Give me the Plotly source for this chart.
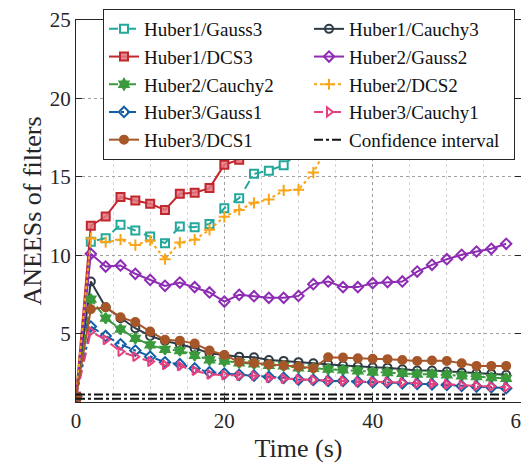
import plotly.graph_objects as go

time_s = [0, 2, 4, 6, 8, 10, 12, 14, 16, 18, 20, 22, 24, 26, 28, 30,
          32, 34, 36, 38, 40, 42, 44, 46, 48, 50, 52, 54, 56, 58]

huber1_gauss3 = [1.0, 10.87, 11.1, 11.95, 11.59, 11.2, 10.78, 11.85, 11.8, 12.0, 13.0, 13.65, 15.2, 15.4, 15.75, 16.57,
                 17.6, 18.3, 18.9, 19.4, 19.9, 20.3, 20.8, 21.2, 21.6, 22.0, 22.4, 22.8, 23.1, 23.5]
huber1_cauchy3 = [1.0, 8.34, 6.7, 6.0, 5.36, 4.87, 4.55, 4.34, 4.09, 3.77, 3.64, 3.55, 3.51, 3.34, 3.28, 3.2,
                  3.13, 3.07, 2.98, 2.94, 2.87, 2.85, 2.75, 2.66, 2.66, 2.6, 2.53, 2.49, 2.45, 2.39]
huber1_dcs3 = [1.0, 11.89, 12.48, 13.72, 13.5, 13.29, 12.9, 13.93, 14.0, 14.29, 15.78, 16.1, 16.5, 17.18, 17.9, 18.5,
               19.1, 19.6, 20.1, 20.6, 21.0, 21.5, 21.9, 22.3, 22.7, 23.1, 23.4, 23.8, 24.1, 24.5]
huber2_gauss2 = [1.0, 10.1, 9.29, 9.36, 8.83, 8.44, 8.06, 8.27, 7.98, 7.64, 7.06, 7.49, 7.4, 7.3, 7.3, 7.42,
                 8.17, 8.34, 7.98, 7.98, 8.23, 8.3, 8.34, 8.97, 9.4, 9.76, 10.04, 10.25, 10.42, 10.74]
huber2_cauchy2 = [1.0, 7.21, 6.0, 5.3, 4.72, 4.3, 4.02, 3.94, 3.63, 3.34, 3.26, 3.16, 3.09, 3.0, 2.97, 2.83,
                  2.81, 2.75, 2.7, 2.65, 2.56, 2.53, 2.49, 2.43, 2.43, 2.39, 2.32, 2.28, 2.22, 2.17]
huber2_dcs2 = [1.0, 11.1, 10.85, 11.0, 10.66, 10.95, 9.76, 10.82, 11.0, 11.63, 12.46, 12.9, 13.35, 13.57, 14.14, 14.19,
               15.28, 17.0, 18.6, 20.0, 21.3, 22.5, 23.6, 24.6, 25.5, 26.4, 27.2, 28.0, 28.7, 29.4]
huber3_gauss1 = [1.0, 5.47, 4.87, 4.34, 3.94, 3.55, 3.19, 3.07, 2.8, 2.56, 2.47, 2.39, 2.34, 2.26, 2.2, 2.09,
                 2.07, 2.0, 2.0, 1.95, 1.92, 1.9, 1.85, 1.81, 1.79, 1.75, 1.68, 1.64, 1.6, 1.54]
huber3_cauchy1 = [1.0, 5.15, 4.62, 3.87, 3.55, 3.24, 3.02, 2.96, 2.66, 2.42, 2.37, 2.34, 2.34, 2.2, 2.15, 2.1,
                  2.07, 2.02, 2.0, 1.95, 1.96, 1.94, 1.9, 1.85, 1.83, 1.79, 1.73, 1.7, 1.66, 1.6]
huber3_dcs1 = [1.0, 6.57, 6.7, 6.06, 5.75, 5.15, 4.62, 4.57, 4.38, 3.94, 3.66, 3.21, 3.15, 3.05, 2.98, 2.92,
               2.81, 3.51, 3.49, 3.44, 3.41, 3.39, 3.34, 3.28, 3.3, 3.28, 3.13, 2.96, 2.96, 2.96]
ci_lower = 0.87
ci_upper = 1.13

FONT = "Liberation Serif"

series = [
    ("Huber1/Gauss3", huber1_gauss3, "#23a89c", "dash", "square-open", None),
    ("Huber1/Cauchy3", huber1_cauchy3, "#2e3b45", "solid", "circle-open", None),
    ("Huber1/DCS3", huber1_dcs3, "#c1272d", "solid", "square", "rgba(225,120,130,0.85)"),
    ("Huber2/Gauss2", huber2_gauss2, "#8e2cb4", "solid", "diamond-open", None),
    ("Huber2/Cauchy2", huber2_cauchy2, "#3a9a3c", "dashdot", "hexagram", "#3a9a3c"),
    ("Huber2/DCS2", huber2_dcs2, "#f9a51a", "dot", "cross-thin", None),
    ("Huber3/Gauss1", huber3_gauss1, "#115fa6", "dashdot", "diamond-open", None),
    ("Huber3/Cauchy1", huber3_cauchy1, "#e6407f", "dash", "triangle-right-open", None),
    ("Huber3/DCS1", huber3_dcs1, "#a65628", "solid", "circle", "#a65628"),
]

fig = go.Figure()
for name, vals, color, dash, sym, fill in series:
    fig.add_trace(go.Scatter(
        x=time_s, y=vals, name=name, mode="lines+markers",
        line=dict(color=color, width=2, dash=dash),
        marker=dict(symbol=sym, size=8, color=fill if fill else color,
                    line=dict(color=color, width=2)),
    ))

ci_x = time_s + [None] + time_s
ci_y = [ci_lower] * len(time_s) + [None] + [ci_upper] * len(time_s)
fig.add_trace(go.Scatter(
    x=ci_x, y=ci_y, name="Confidence interval", mode="lines",
    line=dict(color="#111111", width=2, dash="dashdot"),
))

axis_common = dict(
    showline=True, linecolor="#262626", linewidth=1, mirror="allticks",
    ticks="inside", ticklen=6, tickcolor="#262626",
    tickfont=dict(family=FONT, size=21, color="#262626"),
    zeroline=False,
    gridcolor="#a0a0a0", griddash="dot", gridwidth=1,
)

fig.update_xaxes(
    range=[0, 60], tickvals=[0, 20, 40, 60], ticktext=["0", "20", "40", "60"],
    title=dict(text="Time (s)", font=dict(family=FONT, size=26, color="#262626"), standoff=6),
    minor=dict(dtick=5, tick0=0, showgrid=True, gridcolor="#d6d6d6", griddash="dot", gridwidth=1,
               ticks=""),
    ticklabeloverflow="allow",
    **axis_common,
)
fig.update_yaxes(
    range=[0.66, 25], tickvals=[5, 10, 15, 20, 25],
    title=dict(text="ANEESs of filters", font=dict(family=FONT, size=26, color="#262626"), standoff=0),
    **axis_common,
)

# the page body adds an 8px offset, so the figure is 8px smaller than the window
fig.update_layout(
    width=521, height=465,
    margin=dict(l=68, r=8, t=12, b=71, autoexpand=False),
    plot_bgcolor="white", paper_bgcolor="white",
    font=dict(family=FONT, color="#111111"),
    showlegend=True,
    legend=dict(
        orientation="h", xref="container", yref="container",
        x=95 / 521, y=1 - 1 / 465, xanchor="left", yanchor="top",
        entrywidth=160, entrywidthmode="pixels",
        bgcolor="white", bordercolor="#262626", borderwidth=1,
        font=dict(family=FONT, size=19, color="#111111"),
        tracegroupgap=0, itemwidth=30,
    ),
)

fig.write_html("out.html")
